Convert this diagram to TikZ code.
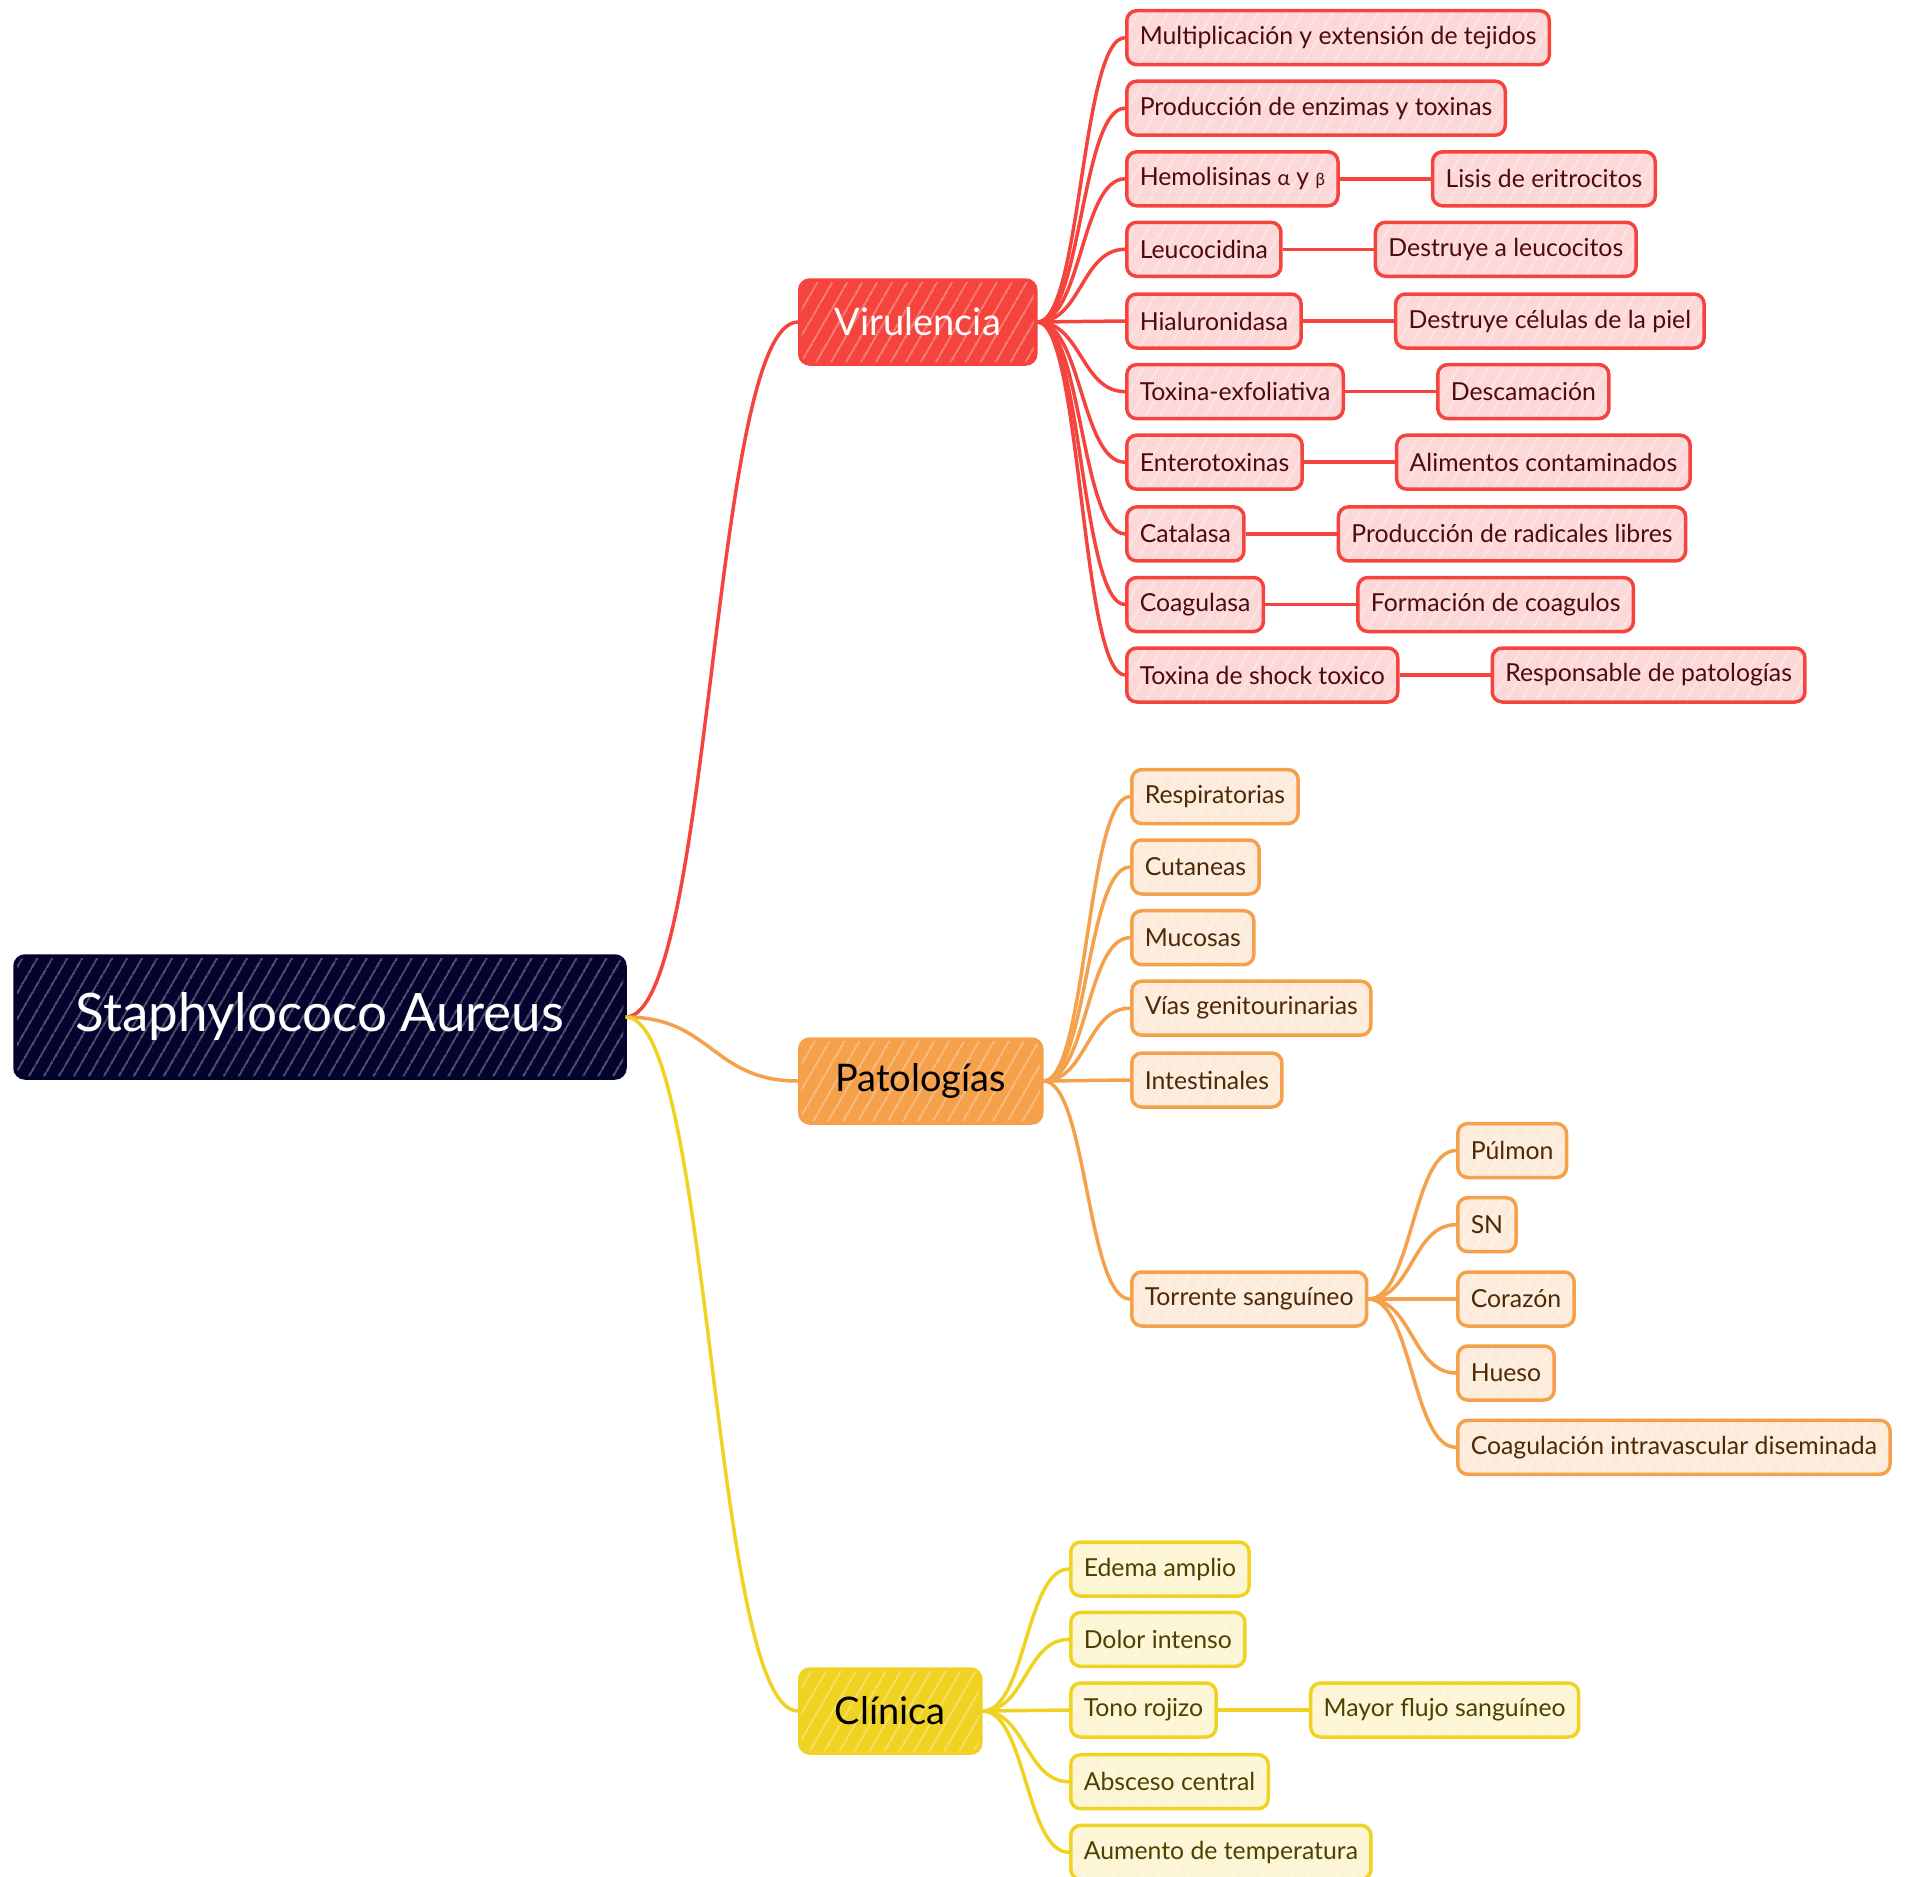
\documentclass[tikz,border=0pt]{standalone}
\usepackage{fontspec}
\setmainfont{Lato}
\usetikzlibrary{positioning,calc,patterns.meta}
\definecolor{rootc}{HTML}{03032E}
\definecolor{redc}{HTML}{F5443D}
\definecolor{redl}{HTML}{FDD8D8}
\definecolor{redt}{HTML}{4D0B0B}
\definecolor{orac}{HTML}{F5A04A}
\definecolor{oral}{HTML}{FDEBDB}
\definecolor{orat}{HTML}{4D2A06}
\definecolor{yelc}{HTML}{F0D322}
\definecolor{yell}{HTML}{FDF6D4}
\definecolor{yelt}{HTML}{4D4000}
\newcommand\mmconn[3]{\draw[#1] let \p1=(#2.east), \p2=(#3.west), \n1={0.5*(\x2-\x1)} in (\p1) .. controls +(\n1,0pt) and +(-\n1,0pt) .. (\p2);}
\tikzset{
  hatch/.style={pattern={Lines[angle=60,distance=13pt,line width=1.2pt]}},
  boxbase/.style={rounded corners=10pt, line width=3.5pt},
  rootbox/.style={boxbase, preaction={fill=rootc}, hatch, pattern color=white!45!rootc, draw=rootc,
    minimum width=610pt, minimum height=122pt, text=white, font=\fontsize{53}{58}\selectfont},
  mainbox/.style={boxbase, minimum height=84pt, anchor=west, font=\fontsize{38}{42}\selectfont},
  virbox/.style={mainbox, preaction={fill=redc}, hatch, pattern color=white!45!redc, draw=redc, text=white},
  patbox/.style={mainbox, preaction={fill=orac}, hatch, pattern color=white!45!orac, draw=orac, text=black},
  clibox/.style={mainbox, preaction={fill=yelc}, hatch, pattern color=white!45!yelc, draw=yelc, text=black},
  leaf/.style={boxbase, minimum height=54pt, inner xsep=13pt, anchor=west, font=\fontsize{24.8}{28}\selectfont},
  rleaf/.style={leaf, preaction={fill=redl}, hatch, pattern color=white!55!redl, draw=redc, text=redt},
  oleaf/.style={leaf, preaction={fill=oral}, hatch, pattern color=white!55!oral, draw=orac, text=orat},
  yleaf/.style={leaf, preaction={fill=yell}, hatch, pattern color=white!55!yell, draw=yelc, text=yelt},
  rline/.style={draw=redc, line width=3.5pt},
  oline/.style={draw=orac, line width=3.5pt},
  yline/.style={draw=yelc, line width=3.5pt},
}
\begin{document}
\begin{tikzpicture}[x=1pt,y=-1pt]
\useasboundingbox (0,0) rectangle (1907,1877);
% main nodes
\node[rootbox] (root) at (320,1017) {Staphylococo Aureus};
\node[virbox, minimum width=236pt] (vir) at (798,322) {Virulencia};
\node[patbox, minimum width=242pt] (pat) at (798,1081) {Patologías};
\node[clibox, minimum width=181pt] (cli) at (798,1711) {Clínica};
% virulencia
\node[rleaf] (v1) at (1125,37.7) {Multiplicación y extensión de tejidos};
\node[rleaf] (v2) at (1125,108.2) {Producción de enzimas y toxinas};
\node[rleaf] (v3) at (1125,178.8) {Hemolisinas {\fontsize{21}{24}\selectfont α} y {\fontsize{17}{20}\selectfont β}};
\node[rleaf] (v4) at (1125,249.3) {Leucocidina};
\node[rleaf] (v5) at (1125,321) {Hialuronidasa};
\node[rleaf] (v6) at (1125,391.6) {Toxina-exfoliativa};
\node[rleaf] (v7) at (1125,462.2) {Enterotoxinas};
\node[rleaf] (v8) at (1125,533.9) {Catalasa};
\node[rleaf] (v9) at (1125,604.5) {Coagulasa};
\node[rleaf] (v10) at (1125,675) {Toxina de shock toxico};
\node[rleaf, right=91pt of v3] (v3a) {Lisis de eritrocitos};
\node[rleaf, right=91pt of v4] (v4a) {Destruye a leucocitos};
\node[rleaf, right=91pt of v5] (v5a) {Destruye células de la piel};
\node[rleaf, right=91pt of v6] (v6a) {Descamación};
\node[rleaf, right=91pt of v7] (v7a) {Alimentos contaminados};
\node[rleaf, right=91pt of v8] (v8a) {Producción de radicales libres};
\node[rleaf, right=91pt of v9] (v9a) {Formación de coagulos};
\node[rleaf, right=91pt of v10] (v10a) {Responsable de patologías};
% patologias
\node[oleaf] (p1) at (1130,796.6) {Respiratorias};
\node[oleaf] (p2) at (1130,867) {Cutaneas};
\node[oleaf] (p3) at (1130,937.7) {Mucosas};
\node[oleaf] (p4) at (1130,1008.2) {Vías genitourinarias};
\node[oleaf] (p5) at (1130,1080) {Intestinales};
\node[oleaf] (p6) at (1130,1299) {Torrente sanguíneo};
\node[oleaf] (t1) at (1456,1150.5) {Púlmon};
\node[oleaf] (t2) at (1456,1224.7) {SN};
\node[oleaf] (t3) at (1456,1299) {Corazón};
\node[oleaf] (t4) at (1456,1373) {Hueso};
\node[oleaf] (t5) at (1456,1447.3) {Coagulación intravascular diseminada};
% clinica
\node[yleaf] (c1) at (1069,1569) {Edema amplio};
\node[yleaf] (c2) at (1069,1639.4) {Dolor intenso};
\node[yleaf] (c3) at (1069,1710) {Tono rojizo};
\node[yleaf] (c4) at (1069,1781.7) {Absceso central};
\node[yleaf] (c5) at (1069,1852.3) {Aumento de temperatura};
\node[yleaf, right=91pt of c3] (c3a) {Mayor flujo sanguíneo};
% connectors
\mmconn{rline}{root}{vir}
\mmconn{oline}{root}{pat}
\mmconn{yline}{root}{cli}
\foreach \c in {v1,v2,v3,v4,v5,v6,v7,v8,v9,v10} {\mmconn{rline}{vir}{\c}}
\foreach \c in {v3,v4,v5,v6,v7,v8,v9,v10} {\mmconn{rline}{\c}{\c a}}
\foreach \c in {p1,p2,p3,p4,p5,p6} {\mmconn{oline}{pat}{\c}}
\foreach \c in {t1,t2,t3,t4,t5} {\mmconn{oline}{p6}{\c}}
\foreach \c in {c1,c2,c3,c4,c5} {\mmconn{yline}{cli}{\c}}
\mmconn{yline}{c3}{c3a}
\end{tikzpicture}
\end{document}
